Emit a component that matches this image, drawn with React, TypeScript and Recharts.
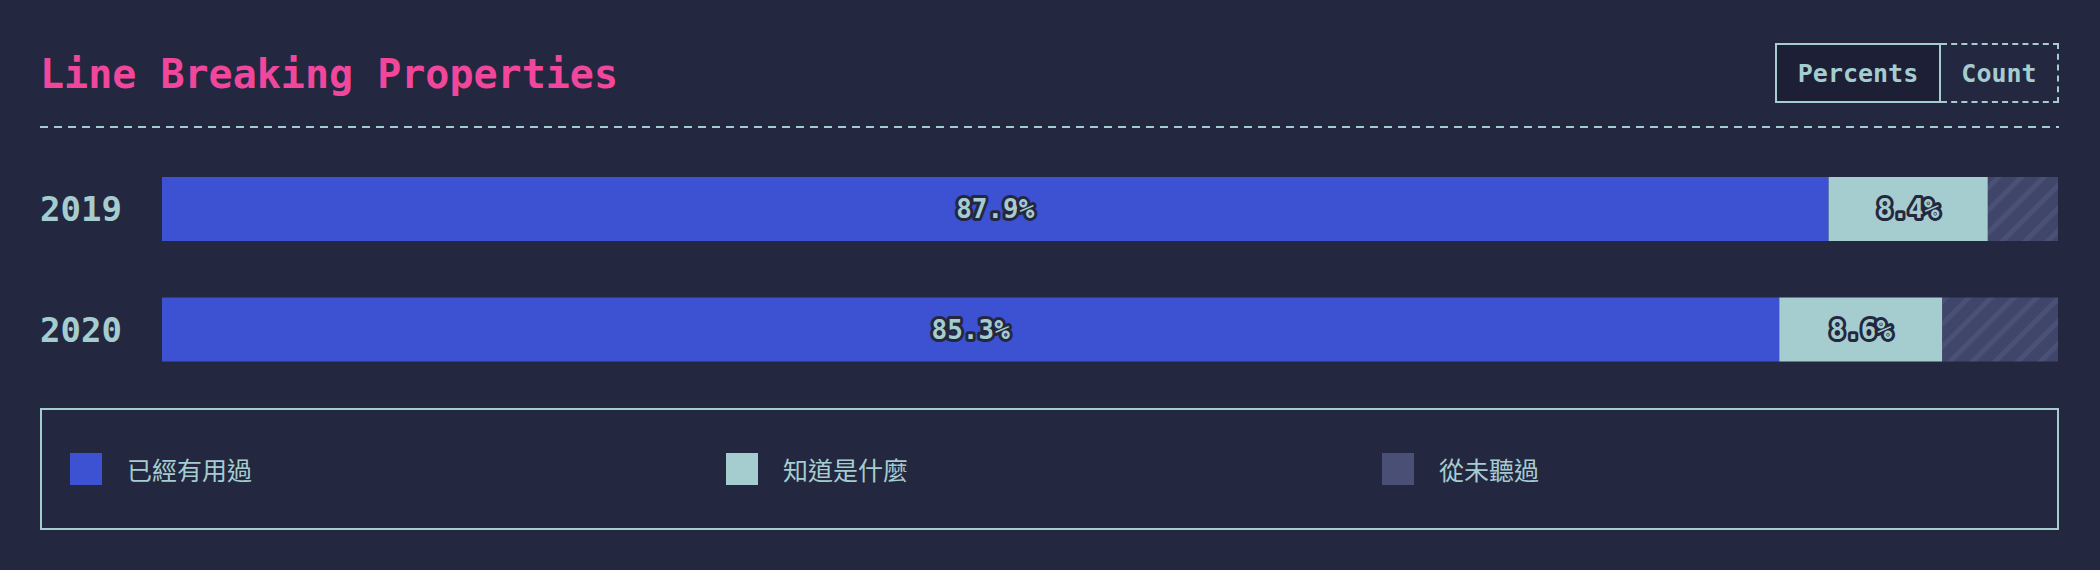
import { BarChart, Bar, XAxis, YAxis, LabelList, Legend } from "recharts";

const years = ["2019", "2020"];
const usedIt = [87.9, 85.3];
const knowIt = [8.4, 8.6];
const neverHeard = [3.7, 6.1];
const seriesNames = ["已經有用過", "知道是什麼", "從未聽過"];
const seriesKeys = ["used", "know", "never"];
const legendColors = ["#3c52d2", "#a5cdd0", "#4a5075"];

const data = years.map((year, i) => ({
  year,
  used: usedIt[i],
  know: knowIt[i],
  never: neverHeard[i],
}));

const BG = "#23273f";
const TEXT = "#a5cdd0";
const MONO = "'DejaVu Sans Mono', 'Liberation Mono', monospace";

const SegmentLabel = (props: any) => {
  const vb = props.viewBox || {};
  const x = props.x ?? vb.x;
  const y = props.y ?? vb.y;
  const width = props.width ?? vb.width;
  const height = props.height ?? vb.height;
  return (
    <text
      x={x + width / 2}
      y={y + height / 2}
      textAnchor="middle"
      dominantBaseline="central"
      fontFamily={MONO}
      fontWeight="bold"
      fontSize={26}
      fill={TEXT}
      stroke={BG}
      strokeWidth={6}
      strokeLinejoin="round"
      style={{ paintOrder: "stroke" }}
    >
      {props.value}%
    </text>
  );
};

const YearTick = (props: any) => (
  <text
    x={40}
    y={props.y}
    dominantBaseline="central"
    fontFamily={MONO}
    fontWeight="bold"
    fontSize={34}
    fill={TEXT}
  >
    {props.payload.value}
  </text>
);

const LegendBox = () => (
  <div
    style={{
      boxSizing: "border-box",
      width: 2019,
      height: 122,
      border: `2px solid ${TEXT}`,
      display: "flex",
      alignItems: "center",
      paddingLeft: 28,
    }}
  >
    {seriesNames.map((name, i) => (
      <div key={name} style={{ width: 656, display: "flex", alignItems: "center" }}>
        <span
          style={{
            width: 32,
            height: 32,
            background: legendColors[i],
            display: "inline-block",
            marginRight: 25,
          }}
        />
        <span
          style={{
            fontFamily: "'Noto Sans CJK TC', 'Noto Sans', sans-serif",
            fontSize: 25,
            color: TEXT,
          }}
        >
          {name}
        </span>
      </div>
    ))}
  </div>
);

export default function App() {
  return (
    <div
      style={{
        position: "absolute",
        left: 0,
        top: 0,
        width: 2100,
        height: 570,
        background: BG,
        overflow: "hidden",
      }}
    >
      <div
        style={{
          position: "absolute",
          left: 40,
          top: 52,
          height: 44,
          lineHeight: "44px",
          fontFamily: MONO,
          fontWeight: "bold",
          fontSize: 40,
          color: "#f0479c",
          whiteSpace: "nowrap",
        }}
      >
        Line Breaking Properties
      </div>

      <div
        style={{
          position: "absolute",
          left: 1775,
          top: 43,
          width: 166,
          height: 60,
          boxSizing: "border-box",
          border: `2px solid ${TEXT}`,
          background: "#1c1f35",
          display: "flex",
          alignItems: "center",
          justifyContent: "center",
          fontFamily: MONO,
          fontWeight: "bold",
          fontSize: 25,
          color: TEXT,
        }}
      >
        Percents
      </div>
      <div
        style={{
          position: "absolute",
          left: 1941,
          top: 43,
          width: 118,
          height: 60,
          boxSizing: "border-box",
          border: `2px dashed ${TEXT}`,
          borderLeft: "none",
          display: "flex",
          alignItems: "center",
          justifyContent: "center",
          fontFamily: MONO,
          fontWeight: "bold",
          fontSize: 25,
          color: TEXT,
        }}
      >
        Count
      </div>

      <svg
        width={2100}
        height={4}
        style={{ position: "absolute", left: 0, top: 125 }}
      >
        <line
          x1={40}
          x2={2059}
          y1={2}
          y2={2}
          stroke={TEXT}
          strokeWidth={2}
          strokeDasharray="8 6"
        />
      </svg>

      <div style={{ position: "absolute", left: 0, top: 0 }}>
        <BarChart
          width={2100}
          height={570}
          data={data}
          layout="vertical"
          margin={{ top: 149, right: 42, bottom: 180, left: 40 }}
        >
          <defs>
            <pattern
              id="hatch"
              patternUnits="userSpaceOnUse"
              width={16}
              height={16}
              patternTransform="rotate(45)"
            >
              <rect width={16} height={16} fill="#40456a" />
              <rect width={5} height={16} fill="#4a5076" />
            </pattern>
          </defs>
          <XAxis type="number" domain={[0, 100]} hide />
          <YAxis
            type="category"
            dataKey="year"
            width={122}
            axisLine={false}
            tickLine={false}
            tick={<YearTick />}
          />
          <Bar
            dataKey={seriesKeys[0]}
            name={seriesNames[0]}
            stackId="a"
            fill={legendColors[0]}
            barSize={64}
            isAnimationActive={false}
          >
            <LabelList dataKey={seriesKeys[0]} content={<SegmentLabel />} />
          </Bar>
          <Bar
            dataKey={seriesKeys[1]}
            name={seriesNames[1]}
            stackId="a"
            fill={legendColors[1]}
            barSize={64}
            isAnimationActive={false}
          >
            <LabelList dataKey={seriesKeys[1]} content={<SegmentLabel />} />
          </Bar>
          <Bar
            dataKey={seriesKeys[2]}
            name={seriesNames[2]}
            stackId="a"
            fill="url(#hatch)"
            barSize={64}
            isAnimationActive={false}
          />
          <Legend
            layout="horizontal"
            verticalAlign="middle"
            align="center"
            content={<LegendBox />}
            wrapperStyle={{ position: "absolute", left: 40, top: 408, width: 2019, height: 122 }}
          />
        </BarChart>
      </div>
    </div>
  );
}
